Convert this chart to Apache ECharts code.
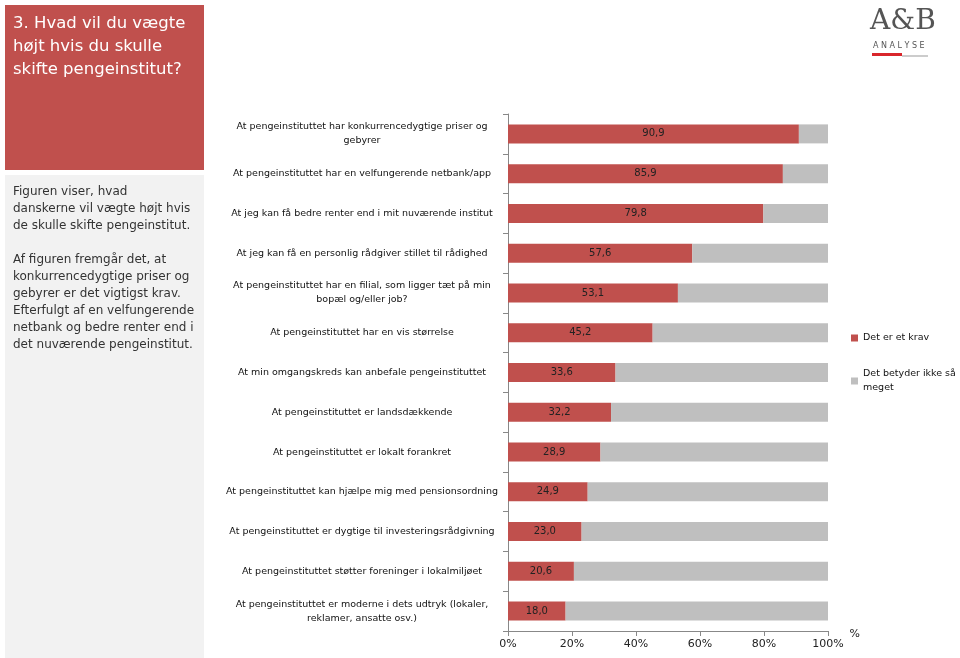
<!DOCTYPE html>
<html><head><meta charset="utf-8">
<script src="https://cdn.jsdelivr.net/npm/echarts@6/dist/echarts.min.js"></script>
<style>html,body{margin:0;padding:0;background:#fff}#c{width:960px;height:658px}</style>
</head><body><div id="c"></div>
<script>
const categories = [
 "At pengeinstituttet har konkurrencedygtige priser og\ngebyrer",
 "At pengeinstituttet har en velfungerende netbank/app",
 "At jeg kan få bedre renter end i mit nuværende institut",
 "At jeg kan få en personlig rådgiver stillet til rådighed",
 "At pengeinstituttet har en filial, som ligger tæt på min\nbopæl og/eller job?",
 "At pengeinstituttet har en vis størrelse",
 "At min omgangskreds kan anbefale pengeinstituttet",
 "At pengeinstituttet er landsdækkende",
 "At pengeinstituttet er lokalt forankret",
 "At pengeinstituttet kan hjælpe mig med pensionsordning",
 "At pengeinstituttet er dygtige til investeringsrådgivning",
 "At pengeinstituttet støtter foreninger i lokalmiljøet",
 "At pengeinstituttet er moderne i dets udtryk (lokaler,\nreklamer, ansatte osv.)"
];
const krav = [90.9,85.9,79.8,57.6,53.1,45.2,33.6,32.2,28.9,24.9,23.0,20.6,18.0];
const ikke = krav.map(v => +(100 - v).toFixed(1));
const xTicks = ["0%","20%","40%","60%","80%","100%"];
const c = echarts.init(document.getElementById('c'));
const font = 'DejaVu Sans';
c.setOption({
 animation:false,
 textStyle:{fontFamily:font},
 grid:{left:508,right:132,top:114,bottom:27},
 xAxis:{type:'value',min:0,max:100,interval:20,
  axisLabel:{formatter:v=>xTicks[v/20],fontSize:11,color:'#222'},
  axisLine:{show:true,lineStyle:{color:'#888'}},axisTick:{show:true,lineStyle:{color:'#888'}},
  splitLine:{show:false},name:'%',nameGap:14,nameTextStyle:{fontSize:11,color:'#222',verticalAlign:'top',padding:[-2,0,0,0]}},
 yAxis:{type:'category',inverse:true,data:categories,
  axisLine:{lineStyle:{color:'#888'}},axisTick:{show:true,lineStyle:{color:'#888'}},
  axisLabel:{fontSize:9.5,color:'#111',align:'center',margin:146,lineHeight:14,width:290}},
 legend:{orient:'vertical',left:846,top:326,itemGap:22,itemWidth:7,itemHeight:7,icon:'rect',
  textStyle:{fontSize:9.5,color:'#111',lineHeight:14},
  data:['Det er et krav','Det betyder ikke så\nmeget']},
 series:[
  {name:'Det er et krav',type:'bar',stack:'a',data:krav,barWidth:19,itemStyle:{color:'#c0504d'},
   label:{show:true,position:'inside',formatter:p=>p.value.toFixed(1).replace('.',','),fontSize:10,color:'#222'}},
  {name:'Det betyder ikke så\nmeget',type:'bar',stack:'a',data:ikke,barWidth:19,itemStyle:{color:'#bfbfbf'}}
 ],
 graphic:[
  {type:'rect',shape:{x:5,y:5,width:199,height:165},style:{fill:'#c0504d'}},
  {type:'text',left:13,top:12,style:{text:'3. Hvad vil du vægte\nhøjt hvis du skulle\nskifte pengeinstitut?',fill:'#fff',font:'16.5px "DejaVu Sans"',lineHeight:23}},
  {type:'rect',shape:{x:5,y:175,width:199,height:483},style:{fill:'#f2f2f2'}},
  {type:'text',left:13,top:183,style:{text:'Figuren viser, hvad\ndanskerne vil vægte højt hvis\nde skulle skifte pengeinstitut.\n\nAf figuren fremgår det, at\nkonkurrencedygtige priser og\ngebyrer er det vigtigst krav.\nEfterfulgt af en velfungerende\nnetbank og bedre renter end i\ndet nuværende pengeinstitut.',fill:'#333',font:'12px "DejaVu Sans"',lineHeight:17}},
  {type:'text',left:870,top:8,style:{text:'A&B',fill:'#555',font:'28px "DejaVu Serif"'}},
  {type:'text',left:873,top:42,style:{text:'A N A L Y S E',fill:'#555',font:'8px "DejaVu Sans"'}},
  {type:'rect',shape:{x:872,y:53,width:30,height:3},style:{fill:'#d9262b'}},
  {type:'line',shape:{x1:902,y1:56,x2:928,y2:56},style:{stroke:'#999',lineWidth:1}}
 ]
});
</script></body></html>
